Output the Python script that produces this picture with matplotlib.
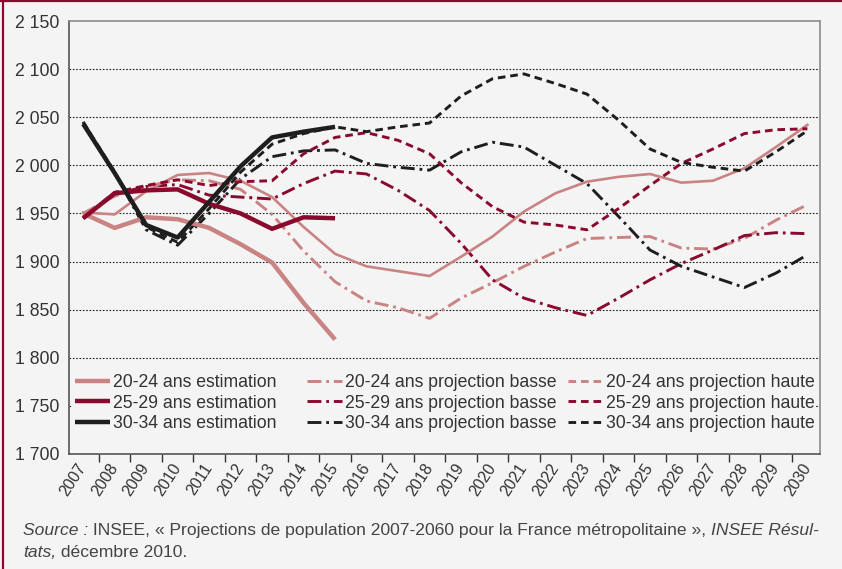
import numpy as np
import matplotlib.pyplot as plt
from matplotlib.lines import Line2D
from matplotlib.patches import Rectangle
from matplotlib.legend import Legend
from matplotlib.ticker import FuncFormatter

plt.rcParams['font.family'] = ['Liberation Sans', 'DejaVu Sans']
plt.rcParams['lines.scale_dashes'] = False

## data (milliers de personnes)
years = list(range(2007, 2031))
est_years = list(range(2007, 2016))

est_20_24 = [1950, 1935, 1946, 1944, 1935, 1918, 1899, 1857, 1819]
est_25_29 = [1945, 1971, 1974, 1975, 1960, 1950, 1934, 1946, 1945]
est_30_34 = [2043, 1992, 1938, 1925, 1962, 1999, 2029, 2035, 2040]

basse_20_24 = [1950, 1968, 1978, 1985, 1984, 1975, 1949, 1911, 1879, 1859, 1852, 1841,
               1862, 1878, 1895, 1910, 1924, 1925, 1926, 1914, 1913, 1924, 1943, 1959]
haute_20_24 = [1951, 1949, 1973, 1990, 1992, 1984, 1967, 1936, 1908, 1895, 1890, 1885,
               1905, 1926, 1952, 1971, 1983, 1988, 1991, 1982, 1984, 1997, 2019, 2042]
basse_25_29 = [1945, 1970, 1978, 1980, 1969, 1967, 1965, 1981, 1994, 1991, 1974, 1953,
               1919, 1881, 1862, 1852, 1844, 1862, 1881, 1898, 1912, 1927, 1930, 1929]
haute_25_29 = [1945, 1972, 1979, 1985, 1979, 1983, 1984, 2012, 2029, 2034, 2026, 2012,
               1982, 1957, 1941, 1938, 1933, 1955, 1979, 2002, 2017, 2033, 2037, 2038]
basse_30_34 = [2045, 1992, 1933, 1917, 1950, 1986, 2009, 2015, 2016, 2002, 1998, 1995,
               2014, 2024, 2019, 2000, 1981, 1947, 1912, 1895, 1884, 1873, 1888, 1907]
haute_30_34 = [2045, 1993, 1936, 1920, 1955, 1993, 2022, 2033, 2040, 2035, 2040, 2044,
               2072, 2090, 2095, 2085, 2074, 2047, 2017, 2003, 1998, 1994, 2014, 2036]

groups = ['20-24', '25-29', '30-34']
yticks = [1700, 1750, 1800, 1850, 1900, 1950, 2000, 2050, 2100, 2150]

## colours
bg = '#f4f4f4'
pink = '#c98382'
maroon = '#8a0a2e'
black = '#1e1e1e'
txt = '#333333'

dash = (5.5, 3.5)
dashdot = (10, 3.5, 2, 3.5)

fig = plt.figure(figsize=(8.42, 5.69), dpi=100, facecolor=bg)
ax = fig.add_axes([69/842, 1 - 454/569, 751/842, 433/569])
ax.set_facecolor(bg)

## frame around the figure (top + left)
fig.add_artist(Line2D([3/842, 3/842], [0, 1], transform=fig.transFigure, color=maroon, lw=1.6))
fig.add_artist(Line2D([0, 1], [1 - 0.8/569, 1 - 0.8/569], transform=fig.transFigure, color=maroon, lw=1.6))

## projections
h_bas = []
for vals, col in zip([basse_20_24, basse_25_29, basse_30_34], [pink, maroon, black]):
    l, = ax.plot(years, vals, color=col, lw=2.1, dashes=dashdot, zorder=3)
    h_bas.append(l)
h_hau = []
for vals, col in zip([haute_20_24, haute_25_29, haute_30_34], [pink, maroon, black]):
    if col == pink:
        ax.plot(years, vals, color=col, lw=1.9, zorder=3)
        h_hau.append(Line2D([], [], color=col, lw=2.1, dashes=dash))
    else:
        l, = ax.plot(years, vals, color=col, lw=2.1, dashes=dash, zorder=3)
        h_hau.append(l)

## estimations
h_est = []
for vals, col in zip([est_20_24, est_25_29, est_30_34], [pink, maroon, black]):
    l, = ax.plot(est_years, vals, color=col, lw=3.2, solid_capstyle='butt', zorder=4)
    h_est.append(l)

## axes
ax.set_xlim(2006.55, 2030.4)
ax.set_ylim(1700, 2150)
ax.set_yticks(yticks)
ax.yaxis.set_major_formatter(FuncFormatter(lambda v, p: f"{v:,.0f}".replace(",", " ")))
ax.tick_params(axis='y', length=0, pad=7, labelsize=12.7, labelcolor=txt)
for v in yticks[1:-1]:
    ax.axhline(v, color='#222222', lw=0.8, ls=(0, (1.2, 1.2)), zorder=1)

ax.set_xticks(years)
ax.set_xticklabels([str(y) for y in years], rotation=57, ha='right',
                   rotation_mode='anchor', va='center')
ax.set_xticks([y + 0.5 for y in years[:-1]], minor=True)
ax.tick_params(axis='x', which='major', length=0, pad=8, labelsize=11.5, labelcolor=txt)
ax.tick_params(axis='x', which='minor', length=6, width=1, color='#333333', direction='out')

for s in ['left', 'bottom']:
    ax.spines[s].set_color('#555555')
    ax.spines[s].set_linewidth(1.2)
for s in ['top', 'right']:
    ax.spines[s].set_color('#8c8c8c')
    ax.spines[s].set_linewidth(1.2)

## legend block: plain background, then one legend per column
ax.add_patch(Rectangle((0.004, 0.055), 0.991, 0.14, transform=ax.transAxes,
                       facecolor=bg, edgecolor='none', zorder=1.5))
columns = [(h_est, 'estimation', 0.008), (h_bas, 'projection basse', 0.317),
           (h_hau, 'projection haute', 0.664)]
for hs, kind, x0 in columns:
    leg = Legend(ax, hs, [g + ' ans ' + kind for g in groups], loc='upper left',
                 bbox_to_anchor=(x0, 0.184), fontsize=12.7, handlelength=2.0,
                 handletextpad=0.17, labelspacing=0.18, borderpad=0.0,
                 borderaxespad=0.0, frameon=False)
    for t in leg.get_texts():
        t.set_color(txt)
    leg.set_zorder(2)
    ax.add_artist(leg)

## source line with italic parts
def put_pieces(x, y, pieces):
    r = fig.canvas.get_renderer()
    for s, style in pieces:
        t = fig.text(x, y, s, style=style, fontsize=12.6, color='#444444', va='baseline')
        x += t.get_window_extent(r).width / fig.bbox.width

put_pieces(23/842, 1 - 535/569, [
    ('Source :', 'italic'),
    (' INSEE, « Projections de population 2007-2060 pour la France métropolitaine », ', 'normal'),
    ('INSEE Résul-', 'italic')])
put_pieces(23/842, 1 - 557/569, [
    ('tats,', 'italic'),
    (' décembre 2010.', 'normal')])

fig.savefig('out.png', dpi=100, facecolor=bg)
